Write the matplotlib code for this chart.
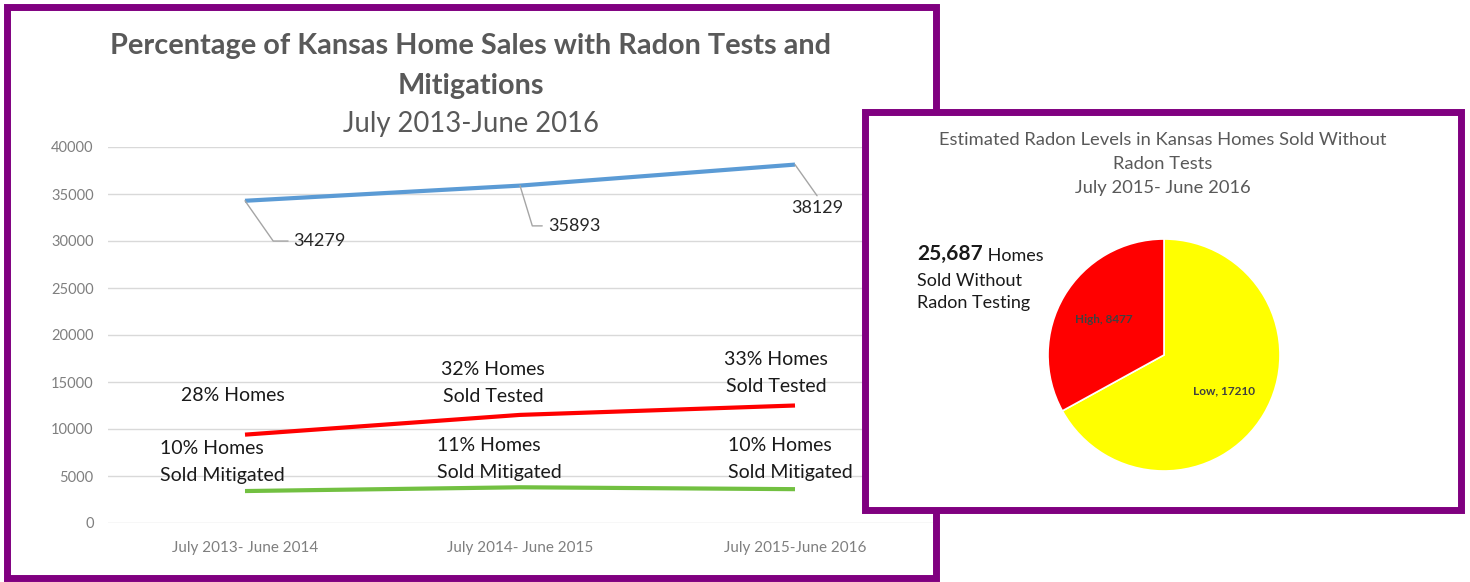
import matplotlib.pyplot as plt
from matplotlib.patches import Rectangle

plt.rcParams['font.family'] = ['Lato', 'DejaVu Sans']

# data
periods = ['July 2013- June 2014', 'July 2014- June 2015', 'July 2015-June 2016']
sales_total = [34279, 35893, 38129]
sales_tested = [9400, 11500, 12500]
sales_mitigated = [3400, 3800, 3600]
tested_notes = ['28% Homes', '32% Homes\nSold Tested', '33% Homes\nSold Tested']
mitigated_notes = ['10% Homes\nSold Mitigated', '11% Homes\nSold Mitigated', '10% Homes\nSold Mitigated']

radon_levels = ['Low', 'High']
radon_counts = [17210, 8477]
untested_total = 25687

PURPLE = '#800080'
W, H = 1470, 582


def fx(px):
    return px / W


def fy(py):
    return 1 - py / H


fig = plt.figure(figsize=(14.7, 5.82), dpi=100)

# ---- left line chart
ax = fig.add_axes([fx(107.5), fy(523), fx(825), 376 / H])
x = list(range(len(periods)))
ax.plot(x, sales_total, color='#5b9bd5', lw=3, solid_capstyle='butt', zorder=3)
ax.plot(x, sales_tested, color='#ff0000', lw=3, solid_capstyle='butt', zorder=3)
ax.plot(x, sales_mitigated, color='#72c041', lw=3, solid_capstyle='butt', zorder=3)
ax.set_xlim(-0.5, 2.5)
ax.set_ylim(0, 40000)
ax.set_yticks(range(0, 40001, 5000))
ax.set_xticks(x)
ax.set_xticklabels(periods)
ax.grid(axis='y', color='#d9d9d9', lw=1)
ax.set_axisbelow(True)
for s in ax.spines.values():
    s.set_visible(False)
ax.tick_params(axis='y', length=0, pad=10, labelsize=10.5, labelcolor='#7f7f7f')
ax.tick_params(axis='x', length=0, pad=13, labelsize=11, labelcolor='#7f7f7f')

# value labels with leader lines (offsets in points)
label_offsets = [(35, -29), (20, -29), (16, -31)]
for i, v in enumerate(sales_total):
    dx, dy = label_offsets[i]
    if i < 2:
        ang = [-55, -73][i]
        props = dict(arrowstyle='-', color='#a5a5a5', lw=1, relpos=(0, 0.5), shrinkA=2, shrinkB=0,
                     connectionstyle=f'angle,angleA=0,angleB={ang},rad=0')
        ax.annotate(str(v), xy=(i, v), xytext=(dx, dy), textcoords='offset points',
                    ha='left', va='center', fontsize=13, color='#262626', arrowprops=props)
    else:
        props = dict(arrowstyle='-', color='#a5a5a5', lw=1, relpos=(0.55, 1), shrinkA=1, shrinkB=0)
        ax.annotate(str(v), xy=(i, v), xytext=(dx, dy), textcoords='offset points',
                    ha='center', va='center', fontsize=13, color='#262626', arrowprops=props)

tested_pos = [(-0.044, 13600), (0.902, 14900), (1.931, 15950)]
for (tx, ty), note in zip(tested_pos, tested_notes):
    ax.text(tx, ty, note, ha='center', va='center', fontsize=14, linespacing=1.7, color='#1a1a1a')

mitigated_pos = [(-0.309, 6500), (0.698, 6800), (1.756, 6800)]
for (tx, ty), note in zip(mitigated_pos, mitigated_notes):
    ax.text(tx, ty, note, ha='left', va='center', fontsize=14, linespacing=1.7, color='#1a1a1a')

fig.text(fx(471), fy(66), 'Percentage of Kansas Home Sales with Radon Tests and\nMitigations',
         ha='center', va='center', fontsize=20.8, fontweight='bold', color='#595959', linespacing=1.65)
fig.text(fx(471), fy(124), 'July 2013-June 2016', ha='center', va='center',
         fontsize=19.8, color='#595959')

# left frame
fig.add_artist(Rectangle((fx(6.5), fy(578)), fx(929), 571.5 / H, transform=fig.transFigure,
                         fill=False, edgecolor=PURPLE, lw=5, zorder=1))

# ---- right panel
fig.add_artist(Rectangle((fx(865.5), fy(509.5)), fx(596), 398 / H, transform=fig.transFigure,
                         facecolor='white', edgecolor=PURPLE, lw=5, zorder=2))

fig.text(fx(1163), fy(164), 'Estimated Radon Levels in Kansas Homes Sold Without\nRadon Tests\nJuly 2015- June 2016',
         ha='center', va='center', fontsize=13.2, color='#595959', linespacing=1.58, zorder=4)

t = fig.text(fx(917), fy(254), f'{untested_total:,}', ha='left', va='center', fontsize=15,
             fontweight='bold', color='#1a1a1a', zorder=4)
fig.text(fx(917), fy(292), 'Sold Without\nRadon Testing', ha='left', va='center', fontsize=13,
         color='#1a1a1a', linespacing=1.5, zorder=4)

pax = fig.add_axes([fx(1048), fy(471), fx(232), 232 / H], zorder=3)
pax.patch.set_alpha(0)
wedges, texts = pax.pie(radon_counts, colors=['#ffff00', '#ff0000'], startangle=90, counterclock=False,
                        labels=[f'{n}, {c}' for n, c in zip(radon_levels, radon_counts)],
                        labeldistance=0.6, wedgeprops=dict(edgecolor='white', lw=1.2))
for tx in texts:
    tx.set_ha('center')
    tx.set_va('center')
    tx.set_fontsize(8.5)
    tx.set_fontweight('bold')
    tx.set_color('#404040')
pax.set_xlim(-1, 1)
pax.set_ylim(-1, 1)
pax.annotate(' Homes', xy=(1, 0), xycoords=t, ha='left', va='bottom', fontsize=13,
             color='#1a1a1a', annotation_clip=False)

fig.savefig('out.png', dpi=100)
